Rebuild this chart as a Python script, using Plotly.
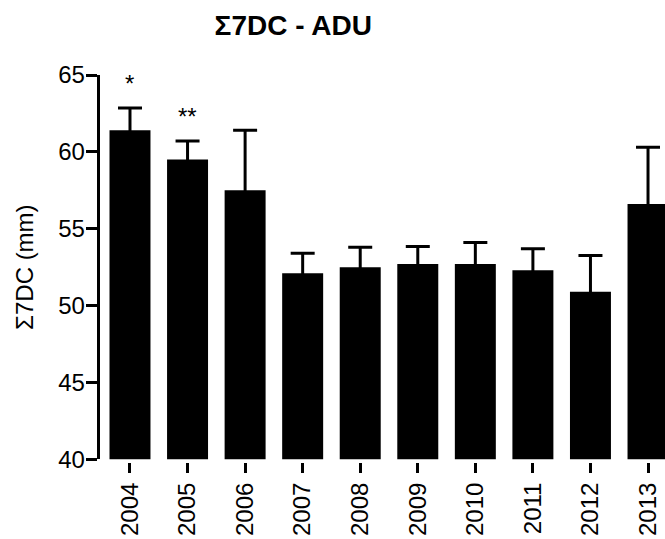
import plotly.graph_objects as go

# Yearly means of Σ7DC (mm) with their upper error bars
years = ["2004", "2005", "2006", "2007", "2008", "2009", "2010", "2011", "2012", "2013"]
means = [61.4, 59.5, 57.5, 52.1, 52.5, 52.7, 52.7, 52.3, 50.9, 56.6]
errors = [1.45, 1.2, 3.9, 1.3, 1.3, 1.15, 1.4, 1.4, 2.35, 3.7]
# Significance marks placed over the error bars
sig_marks = {"2004": "*", "2005": "**"}

y_ticks = [40, 45, 50, 55, 60, 65]

font_main = "Liberation Sans, Arial, sans-serif"

fig = go.Figure(
    go.Bar(
        x=years,
        y=means,
        marker=dict(color="black", line=dict(width=0)),
        error_y=dict(
            type="data",
            array=errors,
            color="black",
            thickness=3,
            width=12,
        ),
        showlegend=False,
    )
)

for year, mark in sig_marks.items():
    i = years.index(year)
    fig.add_annotation(
        x=i,
        y=means[i] + errors[i],
        xref="x",
        yref="y",
        text=mark,
        showarrow=False,
        yanchor="bottom",
        yshift=9,
        font=dict(family=font_main, size=24, color="black"),
    )

fig.update_layout(
    width=665,
    height=539,
    margin=dict(l=100, r=0, t=75, b=77),
    plot_bgcolor="white",
    paper_bgcolor="white",
    bargap=0.288,
    title=dict(
        text="<b>Σ7DC - ADU</b>",
        x=0.441,
        xanchor="center",
        xref="container",
        y=1 - 25 / 539,
        yanchor="middle",
        yref="container",
        font=dict(family=font_main, size=28, color="black"),
    ),
    xaxis=dict(
        type="category",
        range=[-0.521, 9.295],
        anchor="free",
        position=0,
        showline=False,
        showgrid=False,
        zeroline=False,
        ticks="outside",
        ticklen=10,
        tickwidth=2.5,
        tickcolor="black",
        tickangle=-90,
        tickfont=dict(family=font_main, size=24, color="black"),
    ),
    yaxis=dict(
        domain=[0.007, 1],
        range=[40, 65],
        tickvals=y_ticks,
        showline=True,
        linecolor="black",
        linewidth=2.5,
        showgrid=False,
        zeroline=False,
        ticks="outside",
        ticklen=11.5,
        tickwidth=2.5,
        tickcolor="black",
        ticklabelstandoff=-4,
        tickfont=dict(family=font_main, size=24, color="black"),
        title=dict(text="Σ7DC (mm)", font=dict(family=font_main, size=24, color="black"),
                   standoff=18),
    ),
)

fig.write_html("out.html")
